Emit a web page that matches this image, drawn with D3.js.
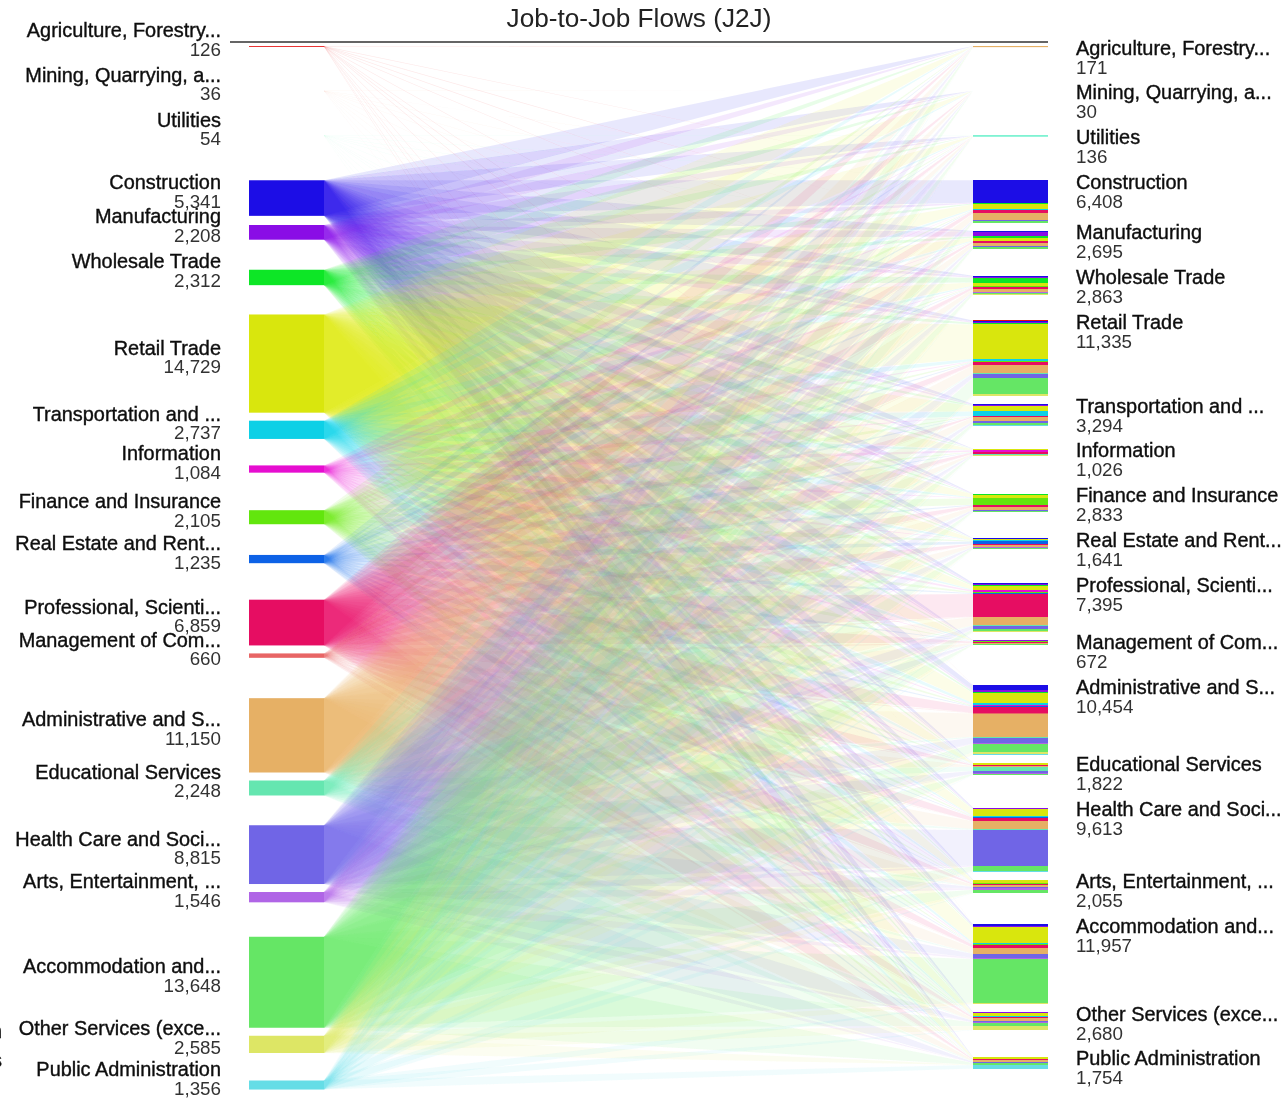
<!DOCTYPE html>
<html>
<head>
<meta charset="utf-8">
<script src="https://cdn.jsdelivr.net/npm/d3@7"></script>
<style>
  body { margin: 0; background: #fff; }
  text { font-family: "Liberation Sans", Arial, sans-serif; }
  .name { font-size: 19.9px; fill: #111; stroke: #111; stroke-width: 0.4px; }
  .value { font-size: 18.8px; fill: #333; }
</style>
</head>
<body>
<div id="graph"></div>
<script>
const categories = ["Agriculture, Forestry...", "Mining, Quarrying, a...", "Utilities", "Construction",
  "Manufacturing", "Wholesale Trade", "Retail Trade", "Transportation and ...", "Information",
  "Finance and Insurance", "Real Estate and Rent...", "Professional, Scienti...", "Management of Com...",
  "Administrative and S...", "Educational Services", "Health Care and Soci...", "Arts, Entertainment, ...",
  "Accommodation and...", "Other Services (exce...", "Public Administration"]

const sourceTotals = [126, 36, 54, 5341, 2208, 2312, 14729, 2737, 1084, 2105, 1235, 6859, 660, 11150, 2248, 8815, 1546, 13648, 2585, 1356]
const targetTotals = [171, 30, 136, 6408, 2695, 2863, 11335, 3294, 1026, 2833, 1641, 7395, 672, 10454, 1822, 9613, 2055, 11957, 2680, 1754]

const colors = ["#e60c0c", "#e67a0c", "#0ce6a6", "#1f0ce6", "#8a0ce6", "#0ce625", "#d9e60c", "#0cd0e6", "#e60cd0", "#62e60c",
  "#0c62e6", "#e60c62", "#e86565", "#e6b065", "#65e6b0", "#6f65e6", "#b065e6", "#65e665", "#dde665", "#65dde6"]

// people moving into each sector, one value per source sector
const intoAgriculture = [13, 0, 0, 15, 3, 5, 15, 4, 0, 1, 1, 6, 0, 50, 1, 6, 2, 45, 3, 1]
const intoMining = [0, 8, 0, 5, 1, 1, 3, 1, 0, 0, 0, 2, 0, 5, 0, 1, 0, 3, 0, 0]
const intoUtilities = [0, 0, 25, 15, 6, 5, 16, 4, 1, 3, 1, 15, 1, 15, 1, 8, 1, 13, 3, 3]
const intoConstruction = [8, 5, 4, 3350, 120, 110, 720, 100, 15, 40, 60, 420, 25, 930, 20, 120, 45, 250, 60, 10]
const intoManufacturing = [3, 1, 2, 120, 700, 190, 420, 70, 15, 25, 15, 200, 15, 510, 10, 150, 25, 200, 25, 10]
const intoWholesale = [3, 1, 1, 130, 180, 720, 480, 80, 20, 40, 20, 290, 15, 430, 10, 90, 25, 280, 35, 13]
const intoRetail = [5, 1, 3, 170, 180, 230, 5150, 330, 70, 90, 70, 380, 25, 1150, 100, 600, 110, 2400, 190, 80]
const intoTransportation = [2, 1, 1, 110, 110, 120, 770, 680, 15, 30, 20, 130, 10, 590, 10, 230, 20, 330, 35, 80]
const intoInformation = [0, 0, 0, 15, 25, 20, 150, 25, 230, 35, 15, 220, 10, 120, 15, 50, 25, 70, 15, 6]
const intoFinance = [1, 1, 3, 40, 45, 70, 450, 50, 40, 1000, 90, 230, 25, 380, 25, 130, 25, 180, 35, 15]
const intoRealEstate = [1, 0, 1, 60, 25, 30, 200, 35, 15, 100, 370, 130, 10, 290, 10, 90, 25, 190, 35, 25]
const intoProfessional = [4, 1, 3, 190, 150, 130, 540, 90, 240, 190, 100, 3400, 70, 1220, 70, 470, 70, 330, 80, 47]
const intoManagement = [0, 0, 0, 15, 25, 20, 90, 15, 10, 20, 10, 130, 70, 130, 5, 60, 7, 50, 15, 10]
const intoAdministrative = [6, 4, 3, 780, 170, 220, 1550, 300, 70, 100, 100, 900, 60, 3500, 110, 850, 70, 1200, 400, 60]
const intoEducational = [0, 0, 0, 15, 15, 15, 220, 20, 15, 15, 10, 120, 5, 150, 650, 370, 30, 160, 20, 20]
const intoHealth = [3, 1, 2, 120, 90, 70, 1000, 70, 40, 70, 30, 550, 30, 1150, 130, 5350, 130, 620, 120, 40]
const intoArts = [1, 0, 0, 40, 25, 25, 420, 30, 30, 20, 15, 170, 8, 300, 40, 120, 280, 450, 40, 40]
const intoAccommodation = [6, 2, 2, 230, 90, 100, 2300, 210, 60, 60, 50, 400, 20, 860, 60, 560, 170, 6550, 170, 50]
const intoOther = [2, 0, 0, 60, 30, 30, 500, 60, 15, 30, 40, 170, 8, 350, 20, 220, 40, 500, 580, 25]
const intoPublic = [1, 0, 1, 40, 25, 15, 190, 35, 10, 30, 15, 110, 15, 220, 50, 160, 15, 250, 30, 540]

const flowsInto = [intoAgriculture, intoMining, intoUtilities, intoConstruction, intoManufacturing, intoWholesale,
  intoRetail, intoTransportation, intoInformation, intoFinance, intoRealEstate, intoProfessional, intoManagement,
  intoAdministrative, intoEducational, intoHealth, intoArts, intoAccommodation, intoOther, intoPublic]

const chartWidth = 1283
const chartHeight = 1099
const leftBar = {x0: 249, x1: 324}
const rightBar = {x0: 973, x1: 1048}
const firstY = 46
const step = 44.75
const gap = 8
const thinBar = 2
const hairBar = 0.5

const svg = d3.select("#graph")
  .append("svg")
  .attr("width", chartWidth)
  .attr("height", chartHeight)
  .style("display", "block")

// the reference is a soft, slightly blurred screenshot
svg.append("defs")
  .append("filter")
  .attr("id", "soft")
  .attr("filterUnits", "userSpaceOnUse")
  .attr("x", 0).attr("y", 0)
  .attr("width", chartWidth).attr("height", chartHeight)
  .append("feGaussianBlur")
  .attr("stdDeviation", 0.45)

const chart = svg.append("g").attr("filter", "url(#soft)")

// value -> pixel height
const barH = d3.scaleLinear().domain([0, 150]).range([0, 1])
const fmt = d3.format(",")

// nodes sit at a fixed step, pushed down when the one above is tall
const layout = totals => {
  const nodes = []
  totals.forEach((t, i) => {
    const prev = nodes[i - 1]
    const y = prev ? Math.max(prev.y + step, prev.y + prev.h + gap) : firstY
    nodes.push({i, y, h: barH(t), total: t})
  })
  return nodes
}
const sources = layout(sourceTotals)
const targets = layout(targetTotals)

// each ribbon leaves the whole source bar and lands on its own slice of the target bar
const flows = []
const targetSums = flowsInto.map(col => d3.sum(col))
const targetOffset = targets.map(n => n.y)
flowsInto.forEach((col, t) => {
  col.forEach((v, s) => {
    if (!v) return
    const th = v / targetSums[t] * targets[t].h
    flows.push({s, t, y0: sources[s].y, y1: sources[s].y + sources[s].h, ty0: targetOffset[t], ty1: targetOffset[t] + th})
    targetOffset[t] += th
  })
})

const x = d3.scaleLinear().domain([0, 1]).range([leftBar.x1, rightBar.x0])

// ribbons, painted source by source so the lower sectors lie on top
const ribbon = d3.area()
  .x(d => x(d.at))
  .y0(d => d.y0)
  .y1(d => d.y1)

chart.append("g")
  .selectAll("path")
  .data(d3.sort(flows, d => d.s, d => d.t))
  .join("path")
  .attr("d", d => ribbon([{at: 0, y0: d.y0, y1: d.y1}, {at: 1, y0: d.ty0, y1: d.ty1}]))
  .attr("fill", d => colors[d.s])
  .attr("fill-opacity", 0.09)

// left bars, the ones under half a pixel do not show
chart.append("g")
  .selectAll("rect")
  .data(sources.filter(n => n.h >= hairBar))
  .join("rect")
  .attr("x", leftBar.x0)
  .attr("width", leftBar.x1 - leftBar.x0)
  .attr("y", d => d.y)
  .attr("height", d => d.h)
  .attr("fill", d => colors[d.i])

// right bars, striped by where people came from
chart.append("g")
  .selectAll("rect")
  .data(flows.filter(d => targets[d.t].h >= thinBar))
  .join("rect")
  .attr("x", rightBar.x0)
  .attr("width", rightBar.x1 - rightBar.x0)
  .attr("y", d => d.ty0)
  .attr("height", d => d.ty1 - d.ty0)
  .attr("fill", d => colors[d.s])
  .attr("shape-rendering", "crispEdges")

// a bar this thin cannot show stripes, its biggest source paints it
chart.append("g")
  .selectAll("rect")
  .data(targets.filter(n => n.h < thinBar && n.h >= hairBar))
  .join("rect")
  .attr("x", rightBar.x0)
  .attr("width", rightBar.x1 - rightBar.x0)
  .attr("y", d => d.y)
  .attr("height", d => d.h)
  .attr("fill", d => colors[d3.greatestIndex(flowsInto[d.i])])

// left labels
const leftLabels = chart.append("g").attr("text-anchor", "end")
sources.forEach(n => {
  const mid = n.y + n.h / 2
  leftLabels.append("text").attr("class", "name").attr("x", 221).attr("y", mid - 9).text(categories[n.i])
  leftLabels.append("text").attr("class", "value").attr("x", 221).attr("y", mid + 9.5).text(fmt(n.total))
})

// right labels
const rightLabels = chart.append("g")
targets.forEach(n => {
  rightLabels.append("text").attr("class", "name").attr("x", 1076).attr("y", n.y + 8.5).text(categories[n.i])
  rightLabels.append("text").attr("class", "value").attr("x", 1076).attr("y", n.y + 27.5).text(fmt(n.total))
})

// title and rule
chart.append("text")
  .attr("x", 639)
  .attr("y", 27)
  .attr("text-anchor", "middle")
  .style("font-size", "26.2px")
  .attr("fill", "#222")
  .text("Job-to-Job Flows (J2J)")

chart.append("line")
  .attr("x1", 230).attr("x2", rightBar.x1)
  .attr("y1", 42).attr("y2", 42)
  .attr("stroke", "#333")
  .attr("stroke-width", 1.5)

// bits of a cropped label at the left edge of the picture
chart.append("text").attr("class", "name").attr("x", 2).attr("y", 1038).attr("text-anchor", "end").text("n")
chart.append("text").attr("class", "name").attr("x", 2).attr("y", 1067).attr("text-anchor", "end").text("s")
</script>
</body>
</html>
